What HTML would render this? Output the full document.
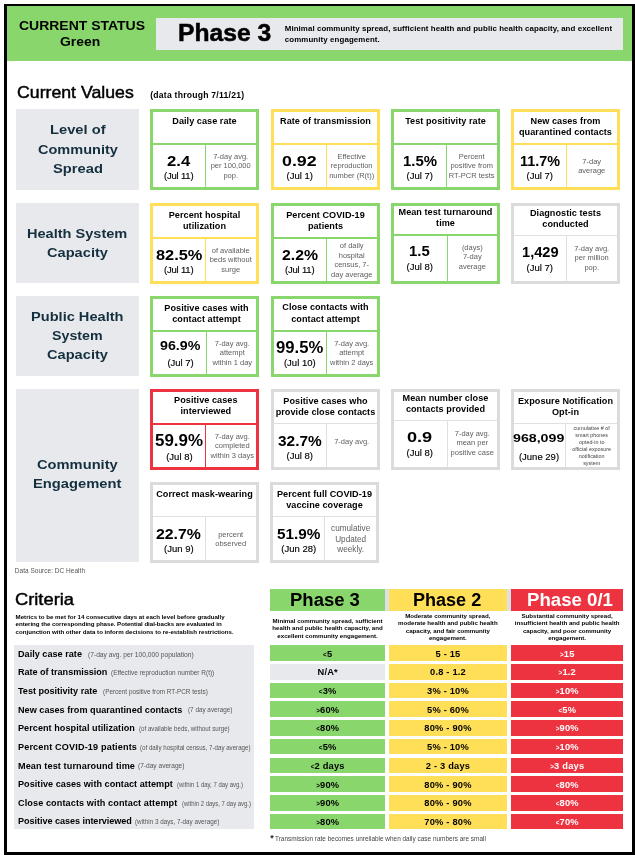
<!DOCTYPE html>
<html lang="en"><head><meta charset="utf-8"><title>COVID-19 Phase Dashboard</title>
<style>
html,body{margin:0;padding:0;background:#fff}
body{width:635px;height:855px;position:relative;overflow:hidden;font-family:"Liberation Sans",sans-serif;color:#000}
#pg{position:absolute;left:0;top:0;width:635px;height:855px;will-change:transform}
.b{position:absolute;box-sizing:content-box}
.t{position:absolute;white-space:nowrap;line-height:1;transform-origin:0 0}
.m{-webkit-text-stroke:0.15px currentColor}
.m2{-webkit-text-stroke:0.45px currentColor}
.m3{-webkit-text-stroke:0.5px currentColor}
.s{font-size:68%;vertical-align:0.08em}
.d{font-family:"DejaVu Sans","Liberation Sans",sans-serif}
</style></head><body><div id="pg">
<div class="b" style="left:4px;top:4px;width:625px;height:846px;border:3px solid #000;border-top-width:2px"></div>
<div class="b" style="left:7px;top:6px;width:625px;height:54.5px;background:#88d66c;"></div>
<div class="b" style="left:156px;top:18px;width:467px;height:32px;background:#e8e9ed;"></div>
<span class="t" style="left:18.60px;top:20.00px;font-size:12.6px;font-weight:700;transform:scaleX(1.1097);">CURRENT STATUS</span>
<span class="t" style="left:60.40px;top:36.00px;font-size:12.6px;font-weight:700;transform:scaleX(1.1067);">Green</span>
<span class="t m3" style="left:177.70px;top:22.00px;font-size:23.5px;font-weight:700;transform:scaleX(1.0491);">Phase 3</span>
<span class="t" style="left:284.80px;top:25.00px;font-size:7.9px;font-weight:700;letter-spacing:0.071px;">Minimal community spread, sufficient health and public health capacity, and excellent</span>
<span class="t" style="left:284.80px;top:36.00px;font-size:7.9px;font-weight:700;letter-spacing:0.102px;">community engagement.</span>
<span class="t m2" style="left:16.80px;top:85.00px;font-size:16.6px;transform:scaleX(1.0667);">Current Values</span>
<span class="t" style="left:150.20px;top:91.00px;font-size:8.6px;font-weight:700;letter-spacing:0.239px;">(data through 7/11/21)</span>
<div class="b" style="left:16.2px;top:109.3px;width:122.7px;height:80.4px;background:#e8e9ed;"></div>
<span class="t" style="left:49.66px;top:124.00px;font-size:12.7px;font-weight:700;color:#14303e;transform:scaleX(1.1600);">Level of</span>
<span class="t" style="left:37.50px;top:144.00px;font-size:12.7px;font-weight:700;color:#14303e;transform:scaleX(1.1453);">Community</span>
<span class="t" style="left:52.53px;top:163.00px;font-size:12.7px;font-weight:700;color:#14303e;transform:scaleX(1.1600);">Spread</span>
<div class="b" style="left:16.2px;top:203.3px;width:122.7px;height:80.1px;background:#e8e9ed;"></div>
<span class="t" style="left:27.30px;top:228.00px;font-size:12.7px;font-weight:700;color:#14303e;transform:scaleX(1.1471);">Health System</span>
<span class="t" style="left:47.00px;top:247.00px;font-size:12.7px;font-weight:700;color:#14303e;transform:scaleX(1.1522);">Capacity</span>
<div class="b" style="left:16.2px;top:296px;width:122.7px;height:80.2px;background:#e8e9ed;"></div>
<span class="t" style="left:31.20px;top:311.00px;font-size:12.7px;font-weight:700;color:#14303e;transform:scaleX(1.1510);">Public Health</span>
<span class="t" style="left:52.15px;top:330.00px;font-size:12.7px;font-weight:700;color:#14303e;transform:scaleX(1.1221);">System</span>
<span class="t" style="left:47.00px;top:349.00px;font-size:12.7px;font-weight:700;color:#14303e;transform:scaleX(1.1522);">Capacity</span>
<div class="b" style="left:16.2px;top:389.3px;width:122.7px;height:172.9px;background:#e8e9ed;"></div>
<span class="t" style="left:37.10px;top:459.00px;font-size:12.7px;font-weight:700;color:#14303e;transform:scaleX(1.1567);">Community</span>
<span class="t" style="left:33.25px;top:478.00px;font-size:12.7px;font-weight:700;color:#14303e;transform:scaleX(1.1612);">Engagement</span>
<div class="b" style="left:150px;top:109px;width:103px;height:75px;border:3px solid #88d66c"></div>
<div class="b" style="left:153px;top:143px;width:103px;height:2px;background:#88d66c;"></div>
<div class="b" style="left:205px;top:145px;width:1px;height:42px;background:#88d66c;"></div>
<span class="t" style="left:172.28px;top:117.00px;font-size:9.1px;font-weight:700;letter-spacing:0.050px;">Daily case rate</span>
<span class="t" style="left:167.20px;top:153.00px;font-size:15.3px;font-weight:700;transform:scaleX(1.0908);">2.4</span>
<span class="t m" style="left:164.05px;top:171.00px;font-size:9.5px;letter-spacing:-0.211px;">(Jul 11)</span>
<span class="t" style="left:213.19px;top:153.00px;font-size:7.5px;color:#5e5e5e;">7-day avg.</span>
<span class="t" style="left:210.68px;top:162.00px;font-size:7.5px;color:#5e5e5e;">per 100,000</span>
<span class="t" style="left:223.40px;top:172.00px;font-size:7.5px;color:#5e5e5e;">pop.</span>
<div class="b" style="left:271px;top:109px;width:103px;height:75px;border:3px solid #ffdf58"></div>
<div class="b" style="left:274px;top:143px;width:103px;height:2px;background:#ffdf58;"></div>
<div class="b" style="left:326px;top:145px;width:1px;height:42px;background:#ffdf58;"></div>
<span class="t" style="left:280.02px;top:117.00px;font-size:9.1px;font-weight:700;letter-spacing:0.050px;">Rate of transmission</span>
<span class="t" style="left:282.45px;top:153.00px;font-size:15.3px;font-weight:700;transform:scaleX(1.1653);">0.92</span>
<span class="t m" style="left:286.60px;top:171.00px;font-size:9.5px;">(Jul 1)</span>
<span class="t" style="left:337.39px;top:153.00px;font-size:7.5px;color:#5e5e5e;">Effective</span>
<span class="t" style="left:330.85px;top:162.00px;font-size:7.5px;color:#5e5e5e;">reproduction</span>
<span class="t" style="left:329.20px;top:172.00px;font-size:7.5px;color:#5e5e5e;">number (R(t))</span>
<div class="b" style="left:391px;top:109px;width:103px;height:75px;border:3px solid #88d66c"></div>
<div class="b" style="left:394px;top:143px;width:103px;height:2px;background:#88d66c;"></div>
<div class="b" style="left:446px;top:145px;width:1px;height:42px;background:#88d66c;"></div>
<span class="t" style="left:405.16px;top:117.00px;font-size:9.1px;font-weight:700;letter-spacing:0.050px;">Test positivity rate</span>
<span class="t" style="left:402.75px;top:153.00px;font-size:15.3px;font-weight:700;transform:scaleX(0.9778);">1.5%</span>
<span class="t m" style="left:406.60px;top:171.00px;font-size:9.5px;">(Jul 7)</span>
<span class="t" style="left:458.78px;top:153.00px;font-size:7.5px;color:#5e5e5e;">Percent</span>
<span class="t" style="left:450.44px;top:162.00px;font-size:7.5px;color:#5e5e5e;">positive from</span>
<span class="t" style="left:448.85px;top:172.00px;font-size:7.5px;color:#5e5e5e;">RT-PCR tests</span>
<div class="b" style="left:511px;top:109px;width:103px;height:75px;border:3px solid #ffdf58"></div>
<div class="b" style="left:514px;top:143px;width:103px;height:2px;background:#ffdf58;"></div>
<div class="b" style="left:566px;top:145px;width:1px;height:42px;background:#ffdf58;"></div>
<span class="t" style="left:530.53px;top:117.00px;font-size:9.1px;font-weight:700;letter-spacing:0.050px;">New cases from</span>
<span class="t" style="left:519.01px;top:128.00px;font-size:9.1px;font-weight:700;letter-spacing:0.050px;">quarantined contacts</span>
<span class="t" style="left:519.80px;top:153.00px;font-size:15.3px;font-weight:700;transform:scaleX(0.9403);">11.7%</span>
<span class="t m" style="left:526.60px;top:171.00px;font-size:9.5px;">(Jul 7)</span>
<span class="t" style="left:582.32px;top:158.00px;font-size:7.5px;color:#5e5e5e;">7-day</span>
<span class="t" style="left:578.15px;top:167.00px;font-size:7.5px;color:#5e5e5e;">average</span>
<div class="b" style="left:150px;top:203px;width:103px;height:75px;border:3px solid #ffdf58"></div>
<div class="b" style="left:153px;top:237px;width:103px;height:2px;background:#ffdf58;"></div>
<div class="b" style="left:205px;top:239px;width:1px;height:42px;background:#ffdf58;"></div>
<span class="t" style="left:168.73px;top:211.00px;font-size:9.1px;font-weight:700;letter-spacing:0.050px;">Percent hospital</span>
<span class="t" style="left:183.02px;top:222.00px;font-size:9.1px;font-weight:700;letter-spacing:0.050px;">utilization</span>
<span class="t" style="left:155.60px;top:247.00px;font-size:15.3px;font-weight:700;transform:scaleX(1.0696);">82.5%</span>
<span class="t m" style="left:164.05px;top:265.00px;font-size:9.5px;letter-spacing:-0.211px;">(Jul 11)</span>
<span class="t" style="left:211.73px;top:247.00px;font-size:7.5px;color:#5e5e5e;">of available</span>
<span class="t" style="left:209.64px;top:256.00px;font-size:7.5px;color:#5e5e5e;">beds without</span>
<span class="t" style="left:221.32px;top:266.00px;font-size:7.5px;color:#5e5e5e;">surge</span>
<div class="b" style="left:271px;top:203px;width:103px;height:75px;border:3px solid #88d66c"></div>
<div class="b" style="left:274px;top:237px;width:103px;height:2px;background:#88d66c;"></div>
<div class="b" style="left:326px;top:239px;width:1px;height:42px;background:#88d66c;"></div>
<span class="t" style="left:286.18px;top:211.00px;font-size:9.1px;font-weight:700;letter-spacing:0.050px;">Percent COVID-19</span>
<span class="t" style="left:307.88px;top:222.00px;font-size:9.1px;font-weight:700;letter-spacing:0.050px;">patients</span>
<span class="t" style="left:281.80px;top:247.00px;font-size:15.3px;font-weight:700;transform:scaleX(1.0323);">2.2%</span>
<span class="t m" style="left:285.05px;top:265.00px;font-size:9.5px;letter-spacing:-0.211px;">(Jul 11)</span>
<span class="t" style="left:339.82px;top:242.00px;font-size:7.5px;color:#5e5e5e;">of daily</span>
<span class="t" style="left:338.77px;top:252.00px;font-size:7.5px;color:#5e5e5e;">hospital</span>
<span class="t" style="left:334.40px;top:261.00px;font-size:7.5px;color:#5e5e5e;">census, 7-</span>
<span class="t" style="left:331.06px;top:271.00px;font-size:7.5px;color:#5e5e5e;">day average</span>
<div class="b" style="left:391px;top:203px;width:103px;height:75px;border:3px solid #88d66c"></div>
<div class="b" style="left:394px;top:234px;width:103px;height:2px;background:#88d66c;"></div>
<div class="b" style="left:447px;top:236px;width:1px;height:45px;background:#88d66c;"></div>
<span class="t" style="left:398.51px;top:208.00px;font-size:9.1px;font-weight:700;letter-spacing:0.050px;">Mean test turnaround</span>
<span class="t" style="left:436.07px;top:219.00px;font-size:9.1px;font-weight:700;letter-spacing:0.050px;">time</span>
<span class="t" style="left:409.45px;top:244.00px;font-size:14.5px;font-weight:700;transform:scaleX(1.0269);">1.5</span>
<span class="t m" style="left:406.60px;top:262.00px;font-size:9.5px;">(Jul 8)</span>
<span class="t" style="left:461.88px;top:244.00px;font-size:7.5px;color:#5e5e5e;">(days)</span>
<span class="t" style="left:462.92px;top:253.00px;font-size:7.5px;color:#5e5e5e;">7-day</span>
<span class="t" style="left:458.75px;top:263.00px;font-size:7.5px;color:#5e5e5e;">average</span>
<div class="b" style="left:511px;top:203px;width:103px;height:75px;border:3px solid #dbdbdb"></div>
<div class="b" style="left:514px;top:235px;width:103px;height:1px;background:#e0e0e0;"></div>
<div class="b" style="left:566px;top:236px;width:1px;height:45px;background:#e0e0e0;"></div>
<span class="t" style="left:529.98px;top:209.00px;font-size:9.1px;font-weight:700;letter-spacing:0.050px;">Diagnostic tests</span>
<span class="t" style="left:542.30px;top:220.00px;font-size:9.1px;font-weight:700;letter-spacing:0.050px;">conducted</span>
<span class="t" style="left:521.50px;top:246.00px;font-size:13.8px;font-weight:700;transform:scaleX(1.0598);">1,429</span>
<span class="t m" style="left:526.60px;top:263.00px;font-size:9.5px;">(Jul 7)</span>
<span class="t" style="left:574.19px;top:245.00px;font-size:7.5px;color:#5e5e5e;">7-day avg.</span>
<span class="t" style="left:574.61px;top:254.00px;font-size:7.5px;color:#5e5e5e;">per million</span>
<span class="t" style="left:584.40px;top:264.00px;font-size:7.5px;color:#5e5e5e;">pop.</span>
<div class="b" style="left:150px;top:296px;width:103px;height:75px;border:3px solid #88d66c"></div>
<div class="b" style="left:153px;top:330px;width:103px;height:2px;background:#88d66c;"></div>
<div class="b" style="left:206px;top:332px;width:1px;height:42px;background:#88d66c;"></div>
<span class="t" style="left:164.32px;top:304.00px;font-size:9.1px;font-weight:700;letter-spacing:0.050px;">Positive cases with</span>
<span class="t" style="left:172.27px;top:315.00px;font-size:9.1px;font-weight:700;letter-spacing:0.050px;">contact attempt</span>
<span class="t" style="left:160.40px;top:340.00px;font-size:12.3px;font-weight:700;transform:scaleX(1.1584);">96.9%</span>
<span class="t m" style="left:167.40px;top:358.00px;font-size:9.5px;">(Jul 7)</span>
<span class="t" style="left:214.79px;top:340.00px;font-size:7.5px;color:#5e5e5e;">7-day avg.</span>
<span class="t" style="left:219.79px;top:349.00px;font-size:7.5px;color:#5e5e5e;">attempt</span>
<span class="t" style="left:212.50px;top:359.00px;font-size:7.5px;color:#5e5e5e;">within 1 day</span>
<div class="b" style="left:271px;top:296px;width:103px;height:75px;border:3px solid #88d66c"></div>
<div class="b" style="left:274px;top:330px;width:103px;height:2px;background:#88d66c;"></div>
<div class="b" style="left:326px;top:332px;width:1px;height:42px;background:#88d66c;"></div>
<span class="t" style="left:282.32px;top:303.00px;font-size:9.1px;font-weight:700;letter-spacing:0.050px;">Close contacts with</span>
<span class="t" style="left:291.27px;top:315.00px;font-size:9.1px;font-weight:700;letter-spacing:0.050px;">contact attempt</span>
<span class="t" style="left:276.20px;top:340.00px;font-size:16px;font-weight:700;transform:scaleX(1.0404);">99.5%</span>
<span class="t m" style="left:283.96px;top:358.00px;font-size:9.5px;">(Jul 10)</span>
<span class="t" style="left:334.19px;top:340.00px;font-size:7.5px;color:#5e5e5e;">7-day avg.</span>
<span class="t" style="left:339.19px;top:349.00px;font-size:7.5px;color:#5e5e5e;">attempt</span>
<span class="t" style="left:330.02px;top:359.00px;font-size:7.5px;color:#5e5e5e;">within 2 days</span>
<div class="b" style="left:150px;top:389px;width:103px;height:75px;border:3px solid #ee3340"></div>
<div class="b" style="left:153px;top:423px;width:103px;height:2px;background:#ee3340;"></div>
<div class="b" style="left:205px;top:425px;width:1px;height:42px;background:#ee3340;"></div>
<span class="t" style="left:174.11px;top:396.00px;font-size:9.1px;font-weight:700;letter-spacing:0.050px;">Positive cases</span>
<span class="t" style="left:180.52px;top:407.00px;font-size:9.1px;font-weight:700;letter-spacing:0.050px;">interviewed</span>
<span class="t" style="left:155.40px;top:433.00px;font-size:16px;font-weight:700;transform:scaleX(1.0580);">59.9%</span>
<span class="t m" style="left:166.20px;top:452.00px;font-size:9.5px;">(Jul 8)</span>
<span class="t" style="left:214.79px;top:433.00px;font-size:7.5px;color:#5e5e5e;">7-day avg.</span>
<span class="t" style="left:215.00px;top:442.00px;font-size:7.5px;color:#5e5e5e;">completed</span>
<span class="t" style="left:210.62px;top:452.00px;font-size:7.5px;color:#5e5e5e;">within 3 days</span>
<div class="b" style="left:271px;top:389px;width:103px;height:75px;border:3px solid #dbdbdb"></div>
<div class="b" style="left:274px;top:423px;width:103px;height:1px;background:#e0e0e0;"></div>
<div class="b" style="left:326px;top:424px;width:1px;height:43px;background:#e0e0e0;"></div>
<span class="t" style="left:283.35px;top:397.00px;font-size:9.1px;font-weight:700;letter-spacing:0.050px;">Positive cases who</span>
<span class="t" style="left:275.67px;top:408.00px;font-size:9.1px;font-weight:700;letter-spacing:0.050px;">provide close contacts</span>
<span class="t" style="left:277.95px;top:433.00px;font-size:15.3px;font-weight:700;transform:scaleX(1.0073);">32.7%</span>
<span class="t m" style="left:286.60px;top:451.00px;font-size:9.5px;">(Jul 8)</span>
<span class="t" style="left:334.19px;top:438.00px;font-size:7.5px;color:#5e5e5e;">7-day avg.</span>
<div class="b" style="left:391px;top:389px;width:103px;height:75px;border:3px solid #dbdbdb"></div>
<div class="b" style="left:394px;top:420px;width:103px;height:1px;background:#e0e0e0;"></div>
<div class="b" style="left:447px;top:421px;width:1px;height:46px;background:#e0e0e0;"></div>
<span class="t" style="left:402.62px;top:394.00px;font-size:9.1px;font-weight:700;letter-spacing:0.050px;">Mean number close</span>
<span class="t" style="left:405.91px;top:405.00px;font-size:9.1px;font-weight:700;letter-spacing:0.050px;">contacts provided</span>
<span class="t" style="left:407.20px;top:429.00px;font-size:15px;font-weight:700;transform:scaleX(1.2085);">0.9</span>
<span class="t m" style="left:406.60px;top:448.00px;font-size:9.5px;">(Jul 8)</span>
<span class="t" style="left:454.79px;top:430.00px;font-size:7.5px;color:#5e5e5e;">7-day avg.</span>
<span class="t" style="left:456.46px;top:439.00px;font-size:7.5px;color:#5e5e5e;">mean per</span>
<span class="t" style="left:450.62px;top:449.00px;font-size:7.5px;color:#5e5e5e;">positive case</span>
<div class="b" style="left:511px;top:389px;width:103px;height:75px;border:3px solid #dbdbdb"></div>
<div class="b" style="left:514px;top:423px;width:103px;height:1px;background:#e0e0e0;"></div>
<div class="b" style="left:565px;top:424px;width:1px;height:43px;background:#e0e0e0;"></div>
<span class="t" style="left:517.98px;top:397.00px;font-size:9.1px;font-weight:700;letter-spacing:0.050px;">Exposure Notification</span>
<span class="t" style="left:551.98px;top:408.00px;font-size:9.1px;font-weight:700;letter-spacing:0.050px;">Opt-in</span>
<span class="t" style="left:513.35px;top:433.00px;font-size:11.5px;font-weight:700;transform:scaleX(1.2340);">968,099</span>
<span class="t m" style="left:518.93px;top:452.00px;font-size:9.5px;">(June 29)</span>
<span class="t" style="left:573.54px;top:426.00px;font-size:5.4px;color:#444;">cumulative # of</span>
<span class="t" style="left:575.34px;top:433.00px;font-size:5.4px;color:#444;">smart phones</span>
<span class="t" style="left:578.94px;top:440.00px;font-size:5.4px;color:#444;">opted-in to</span>
<span class="t" style="left:572.24px;top:447.00px;font-size:5.4px;color:#444;">official exposure</span>
<span class="t" style="left:578.79px;top:454.00px;font-size:5.4px;color:#444;">notification</span>
<span class="t" style="left:583.15px;top:461.00px;font-size:5.4px;color:#444;">system</span>
<div class="b" style="left:150px;top:482px;width:103px;height:75px;border:3px solid #dbdbdb"></div>
<div class="b" style="left:153px;top:516px;width:103px;height:1px;background:#e0e0e0;"></div>
<div class="b" style="left:205px;top:517px;width:1px;height:43px;background:#e0e0e0;"></div>
<span class="t" style="left:156.23px;top:490.00px;font-size:9.1px;font-weight:700;letter-spacing:0.050px;">Correct mask-wearing</span>
<span class="t" style="left:156.35px;top:526.00px;font-size:15.3px;font-weight:700;transform:scaleX(1.0350);">22.7%</span>
<span class="t m" style="left:164.02px;top:544.00px;font-size:9.5px;">(Jun 9)</span>
<span class="t" style="left:218.19px;top:531.00px;font-size:7.5px;color:#5e5e5e;">percent</span>
<span class="t" style="left:215.27px;top:540.00px;font-size:7.5px;color:#5e5e5e;">observed</span>
<div class="b" style="left:270px;top:482px;width:103px;height:75px;border:3px solid #dbdbdb"></div>
<div class="b" style="left:273px;top:516px;width:103px;height:1px;background:#e0e0e0;"></div>
<div class="b" style="left:324px;top:517px;width:1px;height:43px;background:#e0e0e0;"></div>
<span class="t" style="left:276.97px;top:490.00px;font-size:9.1px;font-weight:700;letter-spacing:0.050px;">Percent full COVID-19</span>
<span class="t" style="left:286.18px;top:501.00px;font-size:9.1px;font-weight:700;letter-spacing:0.050px;">vaccine coverage</span>
<span class="t" style="left:277.10px;top:526.00px;font-size:15.3px;font-weight:700;">51.9%</span>
<span class="t m" style="left:281.37px;top:544.00px;font-size:9.5px;">(Jun 28)</span>
<span class="t" style="left:331.10px;top:525.00px;font-size:8.2px;color:#5e5e5e;">cumulative</span>
<span class="t" style="left:335.20px;top:536.00px;font-size:8.2px;color:#5e5e5e;">Updated</span>
<span class="t" style="left:337.33px;top:546.00px;font-size:8.2px;color:#5e5e5e;">weekly.</span>
<span class="t" style="left:14.80px;top:568.00px;font-size:6.5px;color:#555;letter-spacing:0.023px;">Data Source: DC Health</span>
<span class="t m2" style="left:14.90px;top:592.00px;font-size:16.6px;transform:scaleX(1.1028);">Criteria</span>
<span class="t" style="left:15.60px;top:614.00px;font-size:6.15px;font-weight:700;letter-spacing:-0.007px;">Metrics to be met for 14 consecutive days at each level before gradually</span>
<span class="t" style="left:15.60px;top:621.00px;font-size:6.15px;font-weight:700;letter-spacing:-0.035px;">entering the corresponding phase. Potential dial-backs are evaluated in</span>
<span class="t" style="left:15.60px;top:629.00px;font-size:6.15px;font-weight:700;letter-spacing:-0.013px;">conjunction with other data to inform decisions to re-establish restrictions.</span>
<div class="b" style="left:384.8px;top:589px;width:4px;height:21.6px;background:#dfe0e6;"></div>
<div class="b" style="left:507px;top:589px;width:4px;height:21.6px;background:#dfe0e6;"></div>
<div class="b" style="left:270.4px;top:589px;width:114.4px;height:21.6px;background:#88d66c;"></div>
<span class="t" style="left:290.30px;top:592.00px;font-size:17.5px;font-weight:700;transform:scaleX(1.0566);">Phase 3</span>
<span class="t" style="left:272.58px;top:618.00px;font-size:6.15px;font-weight:700;">Minimal community spread, sufficient</span>
<span class="t" style="left:272.30px;top:625.00px;font-size:6.15px;font-weight:700;">health and public health capacity, and</span>
<span class="t" style="left:277.36px;top:633.00px;font-size:6.15px;font-weight:700;">excellent community engagement.</span>
<div class="b" style="left:388.8px;top:589px;width:118.2px;height:21.6px;background:#ffdf58;"></div>
<span class="t" style="left:413.30px;top:592.00px;font-size:17.5px;font-weight:700;transform:scaleX(1.0309);">Phase 2</span>
<span class="t" style="left:405.18px;top:613.00px;font-size:6.15px;font-weight:700;">Moderate community spread,</span>
<span class="t" style="left:398.01px;top:620.00px;font-size:6.15px;font-weight:700;">moderate health and public health</span>
<span class="t" style="left:405.75px;top:628.00px;font-size:6.15px;font-weight:700;">capacity, and fair community</span>
<span class="t" style="left:428.93px;top:635.00px;font-size:6.15px;font-weight:700;">engagement.</span>
<div class="b" style="left:511px;top:589px;width:112.3px;height:21.6px;background:#ee3340;"></div>
<span class="t" style="left:526.70px;top:592.00px;font-size:17.5px;font-weight:700;color:#fff;transform:scaleX(1.0638);">Phase 0/1</span>
<span class="t" style="left:521.53px;top:613.00px;font-size:6.15px;font-weight:700;">Substantial community spread,</span>
<span class="t" style="left:514.70px;top:620.00px;font-size:6.15px;font-weight:700;">insufficient health and public health</span>
<span class="t" style="left:522.95px;top:628.00px;font-size:6.15px;font-weight:700;">capacity, and poor community</span>
<span class="t" style="left:548.18px;top:635.00px;font-size:6.15px;font-weight:700;">engagement.</span>
<div class="b" style="left:14px;top:645.2px;width:239.6px;height:184.1px;background:#e8e9ed;"></div>
<span class="t" style="left:18.00px;top:650.00px;font-size:9.1px;font-weight:700;letter-spacing:0.018px;">Daily case rate</span>
<span class="t" style="left:88.20px;top:652.00px;font-size:6.8px;color:#555;transform:scaleX(0.9820);">(7-day avg. per 100,000 population)</span>
<div class="b" style="left:270.4px;top:645.2px;width:114.4px;height:15.6px;background:#88d66c;"></div>
<span class="t" style="left:323.07px;top:650.00px;font-size:9.3px;font-weight:700;letter-spacing:0.200px;"><span class="s">&lt;</span>5</span>
<div class="b" style="left:388.8px;top:645.2px;width:118.2px;height:15.6px;background:#ffdf58;"></div>
<span class="t" style="left:435.51px;top:650.00px;font-size:9.3px;font-weight:700;letter-spacing:0.200px;">5 - 15</span>
<div class="b" style="left:511px;top:645.2px;width:112.3px;height:15.6px;background:#ee3340;"></div>
<span class="t" style="left:559.93px;top:650.00px;font-size:9.3px;font-weight:700;color:#fff;letter-spacing:0.200px;"><span class="s">&gt;</span>15</span>
<span class="t" style="left:18.00px;top:668.00px;font-size:9.1px;font-weight:700;letter-spacing:-0.032px;">Rate of transmission</span>
<span class="t" style="left:110.90px;top:670.00px;font-size:6.8px;color:#555;transform:scaleX(0.9535);">(Effective reproduction number R(t))</span>
<div class="b" style="left:270.4px;top:663.93px;width:114.4px;height:15.6px;background:#e8e9ed;"></div>
<span class="t" style="left:317.48px;top:668.00px;font-size:9.3px;font-weight:700;letter-spacing:0.200px;">N/A*</span>
<div class="b" style="left:388.8px;top:663.93px;width:118.2px;height:15.6px;background:#ffdf58;"></div>
<span class="t" style="left:430.04px;top:668.00px;font-size:9.3px;font-weight:700;letter-spacing:0.200px;">0.8 - 1.2</span>
<div class="b" style="left:511px;top:663.93px;width:112.3px;height:15.6px;background:#ee3340;"></div>
<span class="t" style="left:558.54px;top:668.00px;font-size:9.3px;font-weight:700;color:#fff;letter-spacing:0.200px;"><span class="s">&gt;</span>1.2</span>
<span class="t" style="left:18.00px;top:687.00px;font-size:9.1px;font-weight:700;letter-spacing:-0.023px;">Test positivity rate</span>
<span class="t" style="left:103.30px;top:689.00px;font-size:6.8px;color:#555;transform:scaleX(0.9389);">(Percent positive from RT-PCR tests)</span>
<div class="b" style="left:270.4px;top:682.66px;width:114.4px;height:15.6px;background:#88d66c;"></div>
<span class="t" style="left:318.83px;top:687.00px;font-size:9.3px;font-weight:700;letter-spacing:0.200px;"><span class="s">&lt;</span>3%</span>
<div class="b" style="left:388.8px;top:682.66px;width:118.2px;height:15.6px;background:#ffdf58;"></div>
<span class="t" style="left:427.04px;top:687.00px;font-size:9.3px;font-weight:700;letter-spacing:0.200px;">3% - 10%</span>
<div class="b" style="left:511px;top:682.66px;width:112.3px;height:15.6px;background:#ee3340;"></div>
<span class="t" style="left:555.70px;top:687.00px;font-size:9.3px;font-weight:700;color:#fff;letter-spacing:0.200px;"><span class="s">&gt;</span>10%</span>
<span class="t" style="left:18.00px;top:706.00px;font-size:9.1px;font-weight:700;letter-spacing:0.019px;">New cases from quarantined contacts</span>
<span class="t" style="left:187.50px;top:707.00px;font-size:6.8px;color:#555;transform:scaleX(0.9322);">(7 day average)</span>
<div class="b" style="left:270.4px;top:701.39px;width:114.4px;height:15.6px;background:#88d66c;"></div>
<span class="t" style="left:316.15px;top:706.00px;font-size:9.3px;font-weight:700;letter-spacing:0.200px;"><span class="s">&gt;</span>60%</span>
<div class="b" style="left:388.8px;top:701.39px;width:118.2px;height:15.6px;background:#ffdf58;"></div>
<span class="t" style="left:427.04px;top:706.00px;font-size:9.3px;font-weight:700;letter-spacing:0.200px;">5% - 60%</span>
<div class="b" style="left:511px;top:701.39px;width:112.3px;height:15.6px;background:#ee3340;"></div>
<span class="t" style="left:558.38px;top:706.00px;font-size:9.3px;font-weight:700;color:#fff;letter-spacing:0.200px;"><span class="s">&lt;</span>5%</span>
<span class="t" style="left:18.00px;top:724.00px;font-size:9.1px;font-weight:700;letter-spacing:0.045px;">Percent hospital utilization</span>
<span class="t" style="left:138.60px;top:726.00px;font-size:6.8px;color:#555;transform:scaleX(0.9089);">(of available beds, without surge)</span>
<div class="b" style="left:270.4px;top:720.12px;width:114.4px;height:15.6px;background:#88d66c;"></div>
<span class="t" style="left:316.15px;top:724.00px;font-size:9.3px;font-weight:700;letter-spacing:0.200px;"><span class="s">&lt;</span>80%</span>
<div class="b" style="left:388.8px;top:720.12px;width:118.2px;height:15.6px;background:#ffdf58;"></div>
<span class="t" style="left:424.35px;top:724.00px;font-size:9.3px;font-weight:700;letter-spacing:0.200px;">80% - 90%</span>
<div class="b" style="left:511px;top:720.12px;width:112.3px;height:15.6px;background:#ee3340;"></div>
<span class="t" style="left:555.70px;top:724.00px;font-size:9.3px;font-weight:700;color:#fff;letter-spacing:0.200px;"><span class="s">&gt;</span>90%</span>
<span class="t" style="left:18.00px;top:743.00px;font-size:9.1px;font-weight:700;letter-spacing:0.154px;">Percent COVID-19 patients</span>
<span class="t" style="left:140.00px;top:745.00px;font-size:6.8px;color:#555;transform:scaleX(0.9051);">(of daily hospital census, 7-day average)</span>
<div class="b" style="left:270.4px;top:738.85px;width:114.4px;height:15.6px;background:#88d66c;"></div>
<span class="t" style="left:318.83px;top:743.00px;font-size:9.3px;font-weight:700;letter-spacing:0.200px;"><span class="s">&lt;</span>5%</span>
<div class="b" style="left:388.8px;top:738.85px;width:118.2px;height:15.6px;background:#ffdf58;"></div>
<span class="t" style="left:427.04px;top:743.00px;font-size:9.3px;font-weight:700;letter-spacing:0.200px;">5% - 10%</span>
<div class="b" style="left:511px;top:738.85px;width:112.3px;height:15.6px;background:#ee3340;"></div>
<span class="t" style="left:555.70px;top:743.00px;font-size:9.3px;font-weight:700;color:#fff;letter-spacing:0.200px;"><span class="s">&gt;</span>10%</span>
<span class="t" style="left:18.00px;top:762.00px;font-size:9.1px;font-weight:700;letter-spacing:0.114px;">Mean test turnaround time</span>
<span class="t" style="left:137.50px;top:763.00px;font-size:6.8px;color:#555;transform:scaleX(0.9687);">(7-day average)</span>
<div class="b" style="left:270.4px;top:757.58px;width:114.4px;height:15.6px;background:#88d66c;"></div>
<span class="t" style="left:310.68px;top:762.00px;font-size:9.3px;font-weight:700;letter-spacing:0.200px;"><span class="s">&lt;</span>2 days</span>
<div class="b" style="left:388.8px;top:757.58px;width:118.2px;height:15.6px;background:#ffdf58;"></div>
<span class="t" style="left:425.80px;top:762.00px;font-size:9.3px;font-weight:700;letter-spacing:0.200px;">2 - 3 days</span>
<div class="b" style="left:511px;top:757.58px;width:112.3px;height:15.6px;background:#ee3340;"></div>
<span class="t" style="left:550.23px;top:762.00px;font-size:9.3px;font-weight:700;color:#fff;letter-spacing:0.200px;"><span class="s">&gt;</span>3 days</span>
<span class="t" style="left:18.00px;top:780.00px;font-size:9.1px;font-weight:700;letter-spacing:0.034px;">Positive cases with contact attempt</span>
<span class="t" style="left:177.40px;top:782.00px;font-size:6.8px;color:#555;transform:scaleX(0.8789);">(within 1 day, 7 day avg.)</span>
<div class="b" style="left:270.4px;top:776.31px;width:114.4px;height:15.6px;background:#88d66c;"></div>
<span class="t" style="left:316.15px;top:781.00px;font-size:9.3px;font-weight:700;letter-spacing:0.200px;"><span class="s">&gt;</span>90%</span>
<div class="b" style="left:388.8px;top:776.31px;width:118.2px;height:15.6px;background:#ffdf58;"></div>
<span class="t" style="left:424.35px;top:781.00px;font-size:9.3px;font-weight:700;letter-spacing:0.200px;">80% - 90%</span>
<div class="b" style="left:511px;top:776.31px;width:112.3px;height:15.6px;background:#ee3340;"></div>
<span class="t" style="left:555.70px;top:781.00px;font-size:9.3px;font-weight:700;color:#fff;letter-spacing:0.200px;"><span class="s">&lt;</span>80%</span>
<span class="t" style="left:18.00px;top:799.00px;font-size:9.1px;font-weight:700;letter-spacing:0.108px;">Close contacts with contact attempt</span>
<span class="t" style="left:181.50px;top:801.00px;font-size:6.8px;color:#555;transform:scaleX(0.8735);">(within 2 days, 7 day avg.)</span>
<div class="b" style="left:270.4px;top:795.04px;width:114.4px;height:15.6px;background:#88d66c;"></div>
<span class="t" style="left:316.15px;top:799.00px;font-size:9.3px;font-weight:700;letter-spacing:0.200px;"><span class="s">&gt;</span>90%</span>
<div class="b" style="left:388.8px;top:795.04px;width:118.2px;height:15.6px;background:#ffdf58;"></div>
<span class="t" style="left:424.35px;top:799.00px;font-size:9.3px;font-weight:700;letter-spacing:0.200px;">80% - 90%</span>
<div class="b" style="left:511px;top:795.04px;width:112.3px;height:15.6px;background:#ee3340;"></div>
<span class="t" style="left:555.70px;top:799.00px;font-size:9.3px;font-weight:700;color:#fff;letter-spacing:0.200px;"><span class="s">&lt;</span>80%</span>
<span class="t" style="left:18.00px;top:817.00px;font-size:9.1px;font-weight:700;letter-spacing:-0.053px;">Positive cases interviewed</span>
<span class="t" style="left:135.00px;top:819.00px;font-size:6.8px;color:#555;transform:scaleX(0.9254);">(within 3 days, 7-day average)</span>
<div class="b" style="left:270.4px;top:813.77px;width:114.4px;height:15.6px;background:#88d66c;"></div>
<span class="t" style="left:316.15px;top:818.00px;font-size:9.3px;font-weight:700;letter-spacing:0.200px;"><span class="s">&gt;</span>80%</span>
<div class="b" style="left:388.8px;top:813.77px;width:118.2px;height:15.6px;background:#ffdf58;"></div>
<span class="t" style="left:424.35px;top:818.00px;font-size:9.3px;font-weight:700;letter-spacing:0.200px;">70% - 80%</span>
<div class="b" style="left:511px;top:813.77px;width:112.3px;height:15.6px;background:#ee3340;"></div>
<span class="t" style="left:555.70px;top:818.00px;font-size:9.3px;font-weight:700;color:#fff;letter-spacing:0.200px;"><span class="s">&lt;</span>70%</span>
<span class="t" style="left:270.30px;top:834.00px;font-size:9px;font-weight:700;color:#222;">*</span>
<span class="t" style="left:275.20px;top:835.00px;font-size:7px;color:#444;transform:scaleX(0.9198);">Transmission rate becomes unreliable when daily case numbers are small</span>
</div></body></html>
